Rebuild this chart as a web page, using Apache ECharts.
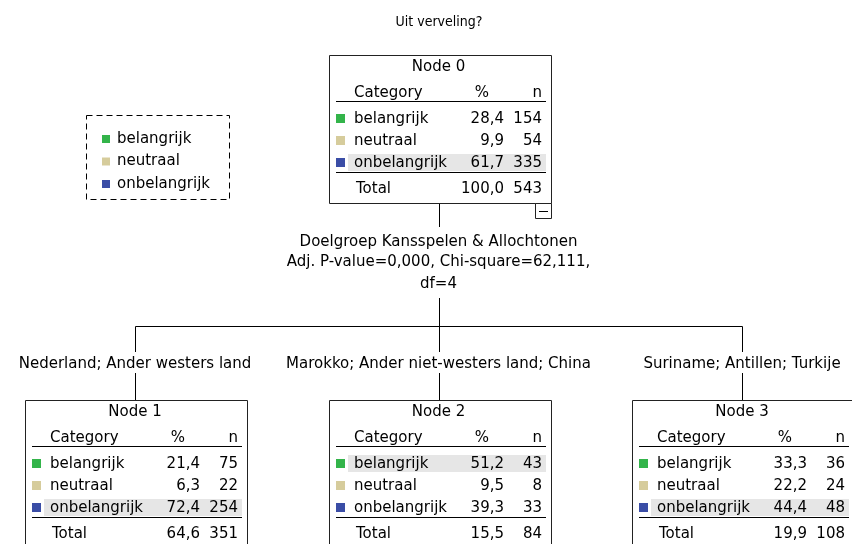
<!DOCTYPE html>
<html>
<head>
<meta charset="utf-8">
<script src="https://cdn.jsdelivr.net/npm/echarts@6/dist/echarts.min.js"></script>
<style>
  html, body { margin: 0; padding: 0; background: #fff; }
  #main { width: 852px; height: 544px; }
</style>
</head>
<body>
<div id="main"></div>
<script>
// tree data
const categories = ["belangrijk", "neutraal", "onbelangrijk"];
const catColors = ["#33b44a", "#d6cc9c", "#3a4da6"];
const nodeNames = ["Node 0", "Node 1", "Node 2", "Node 3"];
const nodeSlot = [1, 0, 1, 2];   // horizontal slot in the tree
const nodeDepth = [0, 1, 1, 1];
const nodeParent = [-1, 0, 0, 0];
const nodePct = [
  [28.4, 9.9, 61.7],
  [21.4, 6.3, 72.4],
  [51.2, 9.5, 39.3],
  [33.3, 22.2, 44.4],
];
const nodeN = [
  [154, 54, 335],
  [75, 22, 254],
  [43, 8, 33],
  [36, 24, 48],
];
const totalPct = [100.0, 64.6, 15.5, 19.9];
const totalN = [543, 351, 84, 108];
const splitLabels = [
  "",
  "Nederland; Ander westers land",
  "Marokko; Ander niet-westers land; China",
  "Suriname; Antillen; Turkije",
];
const splitInfo = [
  ["Doelgroep Kansspelen & Allochtonen", "Adj. P-value=0,000, Chi-square=62,111,", "df=4"],
  [], [], [],
];
const chartTitle = "Uit verveling?";

const FONT = "DejaVu Sans";
const BOX_W = 222;
const BOX_H = 148;

const fmt = (v) => v.toFixed(1).replace(".", ",");
const px = (v) => Math.round(v) + 0.5;

const txt = (text, x, y, align, extra) => ({
  type: "text",
  style: Object.assign(
    { text, x, y, align: align || "left", verticalAlign: "middle",
      fontFamily: FONT, fontSize: 15, fill: "#000" },
    extra || {}
  ),
});
const line = (x1, y1, x2, y2, color) => ({
  type: "line",
  shape: { x1, y1, x2, y2 },
  style: { stroke: color || "#000", lineWidth: 1 },
});

function renderNode(params, api) {
  const i = api.value(2);
  const pt = api.coord([api.value(0), api.value(1)]);
  const cx = pt[0];
  const top = Math.round(pt[1]);
  const L = Math.round(cx - BOX_W / 2) + 1;
  const els = [];

  // highlight band for the modal category
  const pcts = nodePct[i];
  const hi = pcts.indexOf(Math.max(...pcts));
  const rowY = [64, 86, 108];
  els.push({
    type: "rect",
    shape: { x: L + 19, y: top + rowY[hi] - 9, width: 198, height: 17 },
    style: { fill: "#e6e6e6" },
  });

  els.push({
    type: "rect",
    shape: { x: L + 0.5, y: top + 0.5, width: BOX_W, height: BOX_H },
    style: { fill: "none", stroke: "#222", lineWidth: 1 },
  });

  els.push(txt(nodeNames[i], cx, top + 12, "center"));
  els.push(txt("Category", L + 25, top + 38));
  els.push(txt("%", L + 153, top + 38, "center"));
  els.push(txt("n", L + 213, top + 38, "right"));
  els.push(line(L + 7, top + 46.5, L + 217, top + 46.5));

  categories.forEach((c, k) => {
    const y = top + rowY[k];
    els.push({
      type: "rect",
      shape: { x: L + 7, y: y - 5, width: 9, height: 9 },
      style: { fill: catColors[k] },
    });
    els.push(txt(c, L + 25, y));
    els.push(txt(fmt(pcts[k]), L + 175, y, "right"));
    els.push(txt(String(nodeN[i][k]), L + 213, y, "right"));
  });

  els.push(line(L + 7, top + 117.5, L + 217, top + 117.5));
  els.push(txt("Total", L + 27, top + 134));
  els.push(txt(fmt(totalPct[i]), L + 175, top + 134, "right"));
  els.push(txt(String(totalN[i]), L + 213, top + 134, "right"));

  // connectors down to children
  const kids = nodeParent.map((p, k) => (p === i ? k : -1)).filter((k) => k >= 0);
  if (kids.length) {
    const bottom = top + BOX_H;
    // collapse box
    els.push({
      type: "rect",
      shape: { x: L + BOX_W - 16 + 0.5, y: bottom + 0.5, width: 16, height: 15 },
      style: { fill: "#fff", stroke: "#222", lineWidth: 1 },
    });
    els.push(line(L + BOX_W - 12, bottom + 8.5, L + BOX_W - 3, bottom + 8.5));

    const kx = kids.map((k) => api.coord([nodeSlot[k], nodeDepth[k]]));
    const barY = px(kx[0][1] - 74);
    els.push(line(px(cx), bottom + 1, px(cx), bottom + 24));
    const infoY = [39, 59, 81];
    splitInfo[i].forEach((s, k) => els.push(txt(s, cx, bottom + infoY[k], "center")));
    els.push(line(px(cx), bottom + 95, px(cx), barY));
    const xs = kx.map((p) => px(p[0]));
    els.push(line(Math.min(...xs), barY, Math.max(...xs), barY));
  }

  // incoming edge with split label
  if (nodeParent[i] >= 0) {
    const barY = px(top - 74);
    els.push(line(px(cx), barY, px(cx), top - 48));
    els.push(txt(splitLabels[i], cx, top - 36, "center"));
    els.push(line(px(cx), top - 27, px(cx), top));
  }

  return { type: "group", children: els };
}

// legend box (dashed)
const legendItems = [];
categories.forEach((c, k) => {
  const y = 24 + k * 22.5;
  legendItems.push({
    type: "rect",
    shape: { x: 16, y: y - 4, width: 8, height: 8 },
    style: { fill: catColors[k] },
  });
  legendItems.push({
    type: "text",
    style: { text: c, x: 31, y: y, verticalAlign: "middle", fontFamily: FONT, fontSize: 15, fill: "#000" },
  });
});

const chart = echarts.init(document.getElementById("main"));
chart.setOption({
  animation: false,
  title: {
    text: chartTitle,
    left: 434,
    top: 10,
    textAlign: "center",
    textStyle: {
      fontSize: 14,
      fontWeight: "normal",
      fontFamily: "Liberation Sans Narrow, DejaVu Sans Condensed, sans-serif",
      color: "#000",
    },
  },
  grid: { left: 135, right: 110, top: 55, bottom: 144 },
  xAxis: { type: "value", min: 0, max: 2, show: false },
  yAxis: { type: "value", min: 0, max: 1, inverse: true, show: false },
  graphic: [
    {
      type: "group",
      x: 86,
      y: 115,
      children: [
        {
          type: "rect",
          shape: { x: 0.5, y: 0.5, width: 143, height: 84 },
          style: { fill: "none", stroke: "#000", lineWidth: 1, lineDash: [6, 4] },
        },
      ].concat(legendItems),
    },
  ],
  series: [
    {
      type: "custom",
      clip: false,
      silent: true,
      data: nodeNames.map((_, i) => [nodeSlot[i], nodeDepth[i], i]),
      renderItem: renderNode,
    },
  ],
});
</script>
</body>
</html>
